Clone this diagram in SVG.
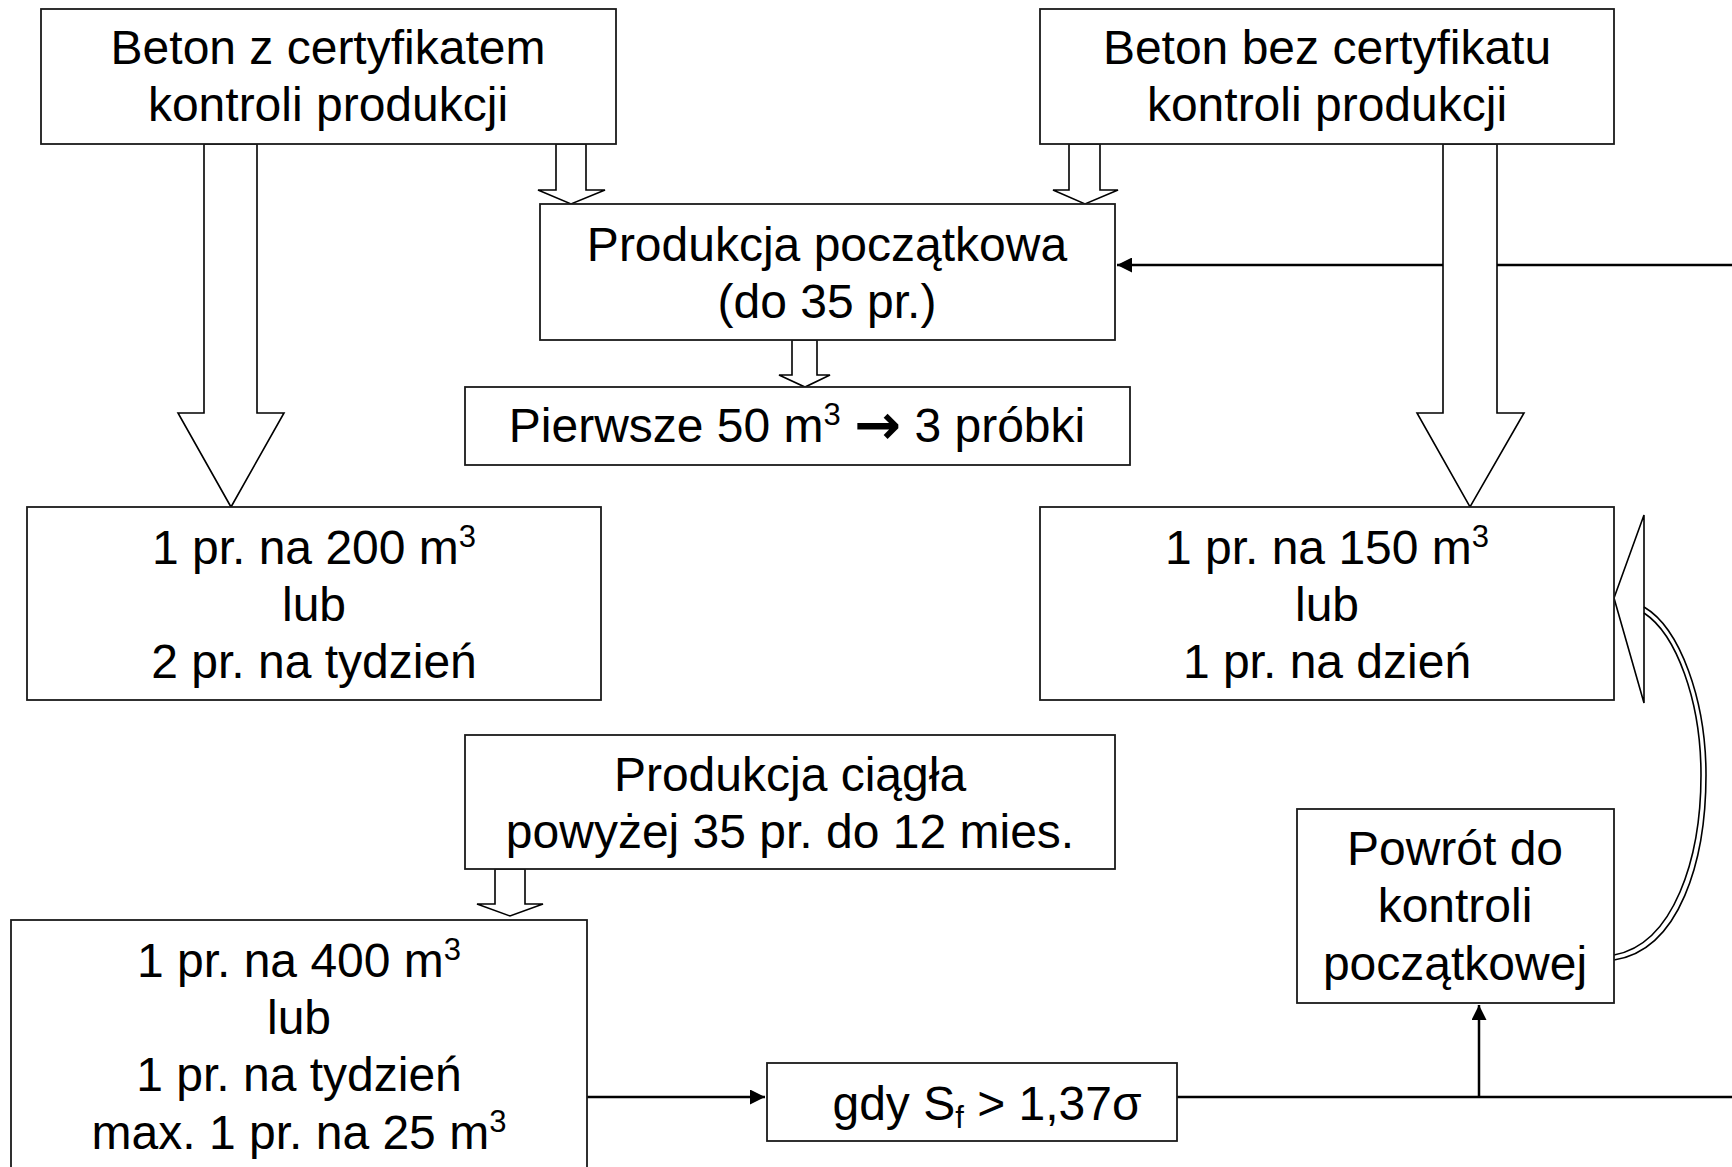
<svg xmlns="http://www.w3.org/2000/svg" width="1732" height="1167" viewBox="0 0 1732 1167">
<defs>
<style>
.box{fill:#fff;stroke:#1a1a1a;stroke-width:1.8}
.blk{fill:#fff;stroke:#000;stroke-width:1.6;stroke-linejoin:miter}
.ln{fill:none;stroke:#000;stroke-width:2.5}
.cv{fill:none;stroke:#000;stroke-width:1.6}
text{font-family:"Liberation Sans",Arial,sans-serif;font-size:48px;fill:#000;text-anchor:middle}
.sup{font-size:31px}
.arr{font-family:"DejaVu Sans",sans-serif;font-weight:bold;font-size:56px}
</style>
<marker id="ah" viewBox="0 0 10 10" refX="10" refY="5" markerWidth="7" markerHeight="6" markerUnits="strokeWidth" orient="auto">
<path d="M0,0 L10,5 L0,10 z" fill="#000"/>
</marker>
</defs>
<rect width="1732" height="1167" fill="#fff"/>

<g id="connectors">
<line class="ln" x1="1732" y1="265" x2="1117" y2="265" marker-end="url(#ah)"/>
<line class="ln" x1="587" y1="1097" x2="765" y2="1097" marker-end="url(#ah)"/>
<line class="ln" x1="1177" y1="1097" x2="1732" y2="1097"/>
<line class="ln" x1="1479" y1="1097" x2="1479" y2="1005" marker-end="url(#ah)"/>
<polygon class="blk" points="204,144 257,144 257,413 284,413 231,507 178,413 204,413"/>
<polygon class="blk" points="1443,144 1497,144 1497,413 1524,413 1470,507 1417,413 1443,413"/>
<polygon class="blk" points="556,144 586,144 586,190 605,190 571,204 538,190 556,190"/>
<polygon class="blk" points="1069,144 1100,144 1100,190 1118,190 1085,204 1053,190 1069,190"/>
<polygon class="blk" points="792,340 817,340 817,375 830,375 805,387 779,375 792,375"/>
<polygon class="blk" points="495,869 525,869 525,904 543,904 510,916 477,904 495,904"/>
<polygon class="blk" points="1644,515 1614,598 1644,703"/>
<path class="cv" d="M1644,607 C1680,628 1706,700 1706,775 C1706,860 1680,950 1614,960"/>
<path class="cv" d="M1644,613 C1676,634 1701,700 1701,775 C1701,858 1674,944 1614,955"/>
</g>

<g id="n1">
<rect class="box" x="41" y="9" width="575" height="135"/>
<text x="328" y="64">Beton z certyfikatem</text>
<text x="328" y="121">kontroli produkcji</text>
</g>
<g id="n2">
<rect class="box" x="1040" y="9" width="574" height="135"/>
<text x="1327" y="64">Beton bez certyfikatu</text>
<text x="1327" y="121">kontroli produkcji</text>
</g>
<g id="n3">
<rect class="box" x="540" y="204" width="575" height="136"/>
<text x="827" y="261">Produkcja początkowa</text>
<text x="827" y="318">(do 35 pr.)</text>
</g>
<g id="n4">
<rect class="box" x="465" y="387" width="665" height="78"/>
<text x="797" y="442">Pierwsze 50 m<tspan class="sup" dy="-17">3</tspan><tspan dy="17"> </tspan><tspan class="arr" dy="2">→</tspan><tspan dy="-2"> 3 próbki</tspan></text>
</g>
<g id="n5">
<rect class="box" x="27" y="507" width="574" height="193"/>
<text x="314" y="564">1 pr. na 200 m<tspan class="sup" dy="-17">3</tspan></text>
<text x="314" y="621">lub</text>
<text x="314" y="678">2 pr. na tydzień</text>
</g>
<g id="n6">
<rect class="box" x="1040" y="507" width="574" height="193"/>
<text x="1327" y="564">1 pr. na 150 m<tspan class="sup" dy="-17">3</tspan></text>
<text x="1327" y="621">lub</text>
<text x="1327" y="678">1 pr. na dzień</text>
</g>
<g id="n7">
<rect class="box" x="465" y="735" width="650" height="134"/>
<text x="790" y="791">Produkcja ciągła</text>
<text x="790" y="848">powyżej 35 pr. do 12 mies.</text>
</g>
<g id="n8">
<rect class="box" x="11" y="920" width="576" height="253"/>
<text x="299" y="977">1 pr. na 400 m<tspan class="sup" dy="-17">3</tspan></text>
<text x="299" y="1034">lub</text>
<text x="299" y="1091">1 pr. na tydzień</text>
<text x="299" y="1149">max. 1 pr. na 25 m<tspan class="sup" dy="-17">3</tspan></text>
</g>
<g id="n9">
<rect class="box" x="1297" y="809" width="317" height="194"/>
<text x="1455" y="865">Powrót do</text>
<text x="1455" y="922">kontroli</text>
<text x="1455" y="980">początkowej</text>
</g>
<g id="n10">
<rect class="box" x="767" y="1063" width="410" height="78"/>
<text x="987" y="1120">gdy S<tspan class="sup" dy="8">f</tspan><tspan dy="-8"> &gt; 1,37σ</tspan></text>
</g>
</svg>
